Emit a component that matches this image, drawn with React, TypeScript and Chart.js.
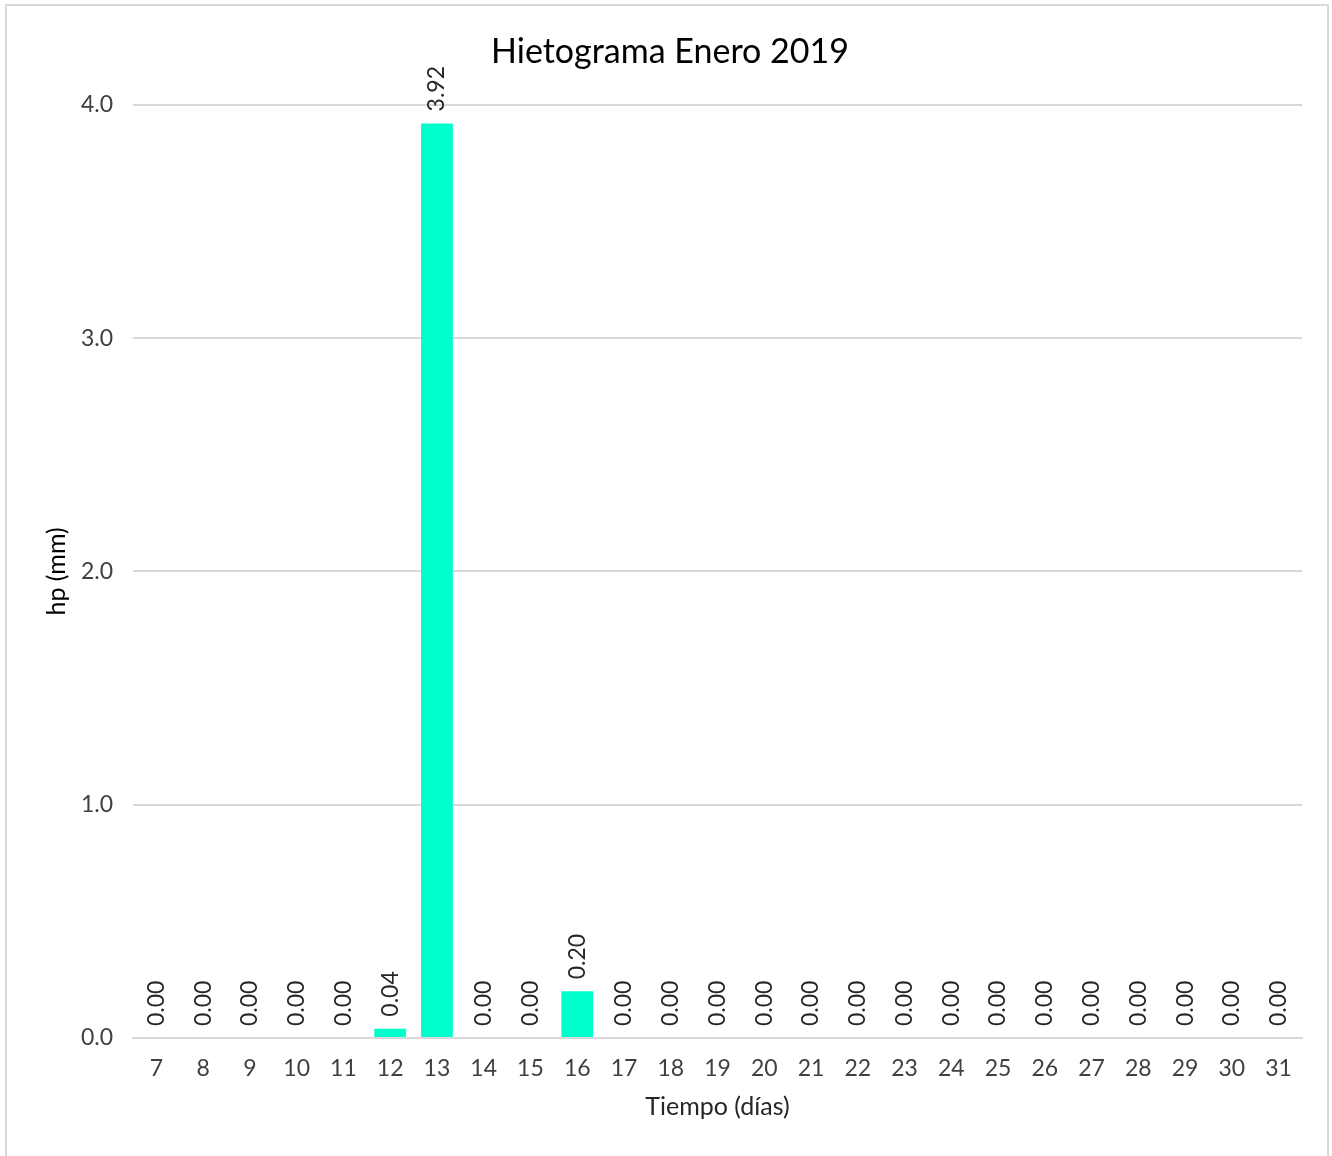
import React, { useEffect, useRef } from "react";
import { Chart, registerables } from "chart.js";

Chart.register(...registerables);

const days = ["7","8","9","10","11","12","13","14","15","16","17","18","19","20","21","22","23","24","25","26","27","28","29","30","31"];
const hp = [0,0,0,0,0,0.04,3.92,0,0,0.2,0,0,0,0,0,0,0,0,0,0,0,0,0,0,0];
const title = "Hietograma Enero 2019";
const xTitle = "Tiempo (días)";
const yTitle = "hp (mm)";

const FONT = "Lato, 'Open Sans', sans-serif";

const labelPlugin = {
  id: "barLabels",
  afterDatasetsDraw(chart: any) {
    const ctx = chart.ctx;
    const meta = chart.getDatasetMeta(0);
    ctx.save();
    ctx.font = `23px ${FONT}`;
    ctx.fillStyle = "#262626";
    ctx.textAlign = "left";
    ctx.textBaseline = "middle";
    meta.data.forEach((el: any, i: number) => {
      const v = chart.data.datasets[0].data[i] as number;
      ctx.save();
      ctx.translate(el.x, el.y - 12);
      ctx.rotate(-Math.PI / 2);
      ctx.fillText(v.toFixed(2), 0, 0);
      ctx.restore();
    });
    ctx.restore();
  },
};

export default function App() {
  const ref = useRef<HTMLCanvasElement | null>(null);
  useEffect(() => {
    document.body.style.margin = "0";
    const chart = new Chart(ref.current!, {
      type: "bar",
      data: {
        labels: days,
        datasets: [
          {
            data: hp,
            backgroundColor: "#00FFCC",
            categoryPercentage: 1,
            barPercentage: 0.68,
          },
        ],
      },
      options: {
        animation: false,
        responsive: false,
        maintainAspectRatio: false,
        layout: { padding: { left: 38, right: 30, top: 0, bottom: 30 } },
        plugins: {
          legend: { display: false },
          tooltip: { enabled: false },
          title: {
            display: true,
            text: title,
            color: "#000",
            font: { family: FONT, size: 34, weight: "normal" },
            padding: { top: 32, bottom: 32 },
          },
        },
        scales: {
          x: {
            grid: { display: false },
            border: { color: "#d9d9d9", width: 2 },
            ticks: { color: "#404040", font: { family: FONT, size: 23 }, padding: 9, maxRotation: 0, autoSkip: false },
            title: { display: true, text: xTitle, color: "#262626", font: { family: FONT, size: 25 }, padding: { top: 4 } },
            afterFit: (s: any) => { s.height = 88; },
          },
          y: {
            min: 0,
            max: 4,
            ticks: { stepSize: 1, color: "#404040", font: { family: FONT, size: 23 }, padding: 20, callback: (v: any) => Number(v).toFixed(1) },
            grid: { color: "#d9d9d9", lineWidth: 2, drawTicks: false },
            border: { display: false },
            title: { display: true, text: yTitle, color: "#000", font: { family: FONT, size: 25 }, padding: { bottom: 6 } },
            afterFit: (s: any) => { s.width = 95; },
          },
        },
      },
      plugins: [labelPlugin],
    });
    return () => chart.destroy();
  }, []);
  return (
    <div style={{ position: "absolute", left: 0, top: 0, width: 1332, height: 1156 }}>
      <canvas ref={ref} width={1332} height={1156} style={{ position: "absolute", left: 0, top: 0 }} />
      <div style={{ position: "absolute", left: 5, top: 4, width: 1324, height: 1160, border: "2px solid #d9d9d9", boxSizing: "border-box", pointerEvents: "none" }} />
    </div>
  );
}
